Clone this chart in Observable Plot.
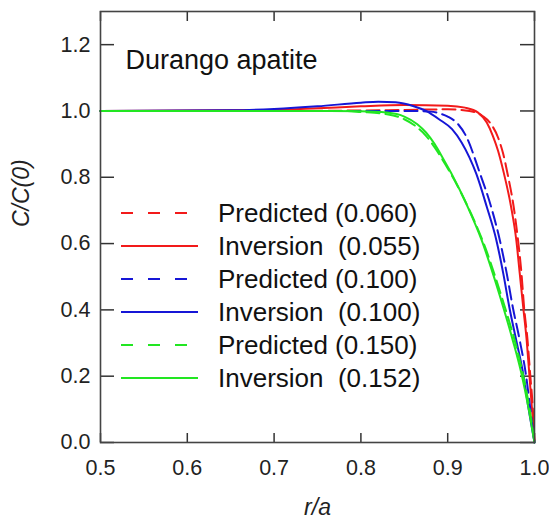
<!DOCTYPE html>
<html>
<head>
<meta charset="utf-8">
<script src="https://cdn.jsdelivr.net/npm/d3@7"></script>
<script src="https://cdn.jsdelivr.net/npm/@observablehq/plot@0.6"></script>
<style>
  html, body { margin: 0; padding: 0; background: #fff; }
  #chart svg { display: block; }
</style>
</head>
<body>
<div id="chart"></div>
<script>
// ---- data ----
const title = "Durango apatite";
const xLabel = "r/a";
const yLabel = "C/C(0)";
const xTicks = [0.5, 0.6, 0.7, 0.8, 0.9, 1.0];
const yTicks = [0.0, 0.2, 0.4, 0.6, 0.8, 1.0, 1.2];

const seriesNames = ["Predicted (0.060)", "Inversion  (0.055)", "Predicted (0.100)", "Inversion  (0.100)", "Predicted (0.150)", "Inversion  (0.152)"];
const seriesColors = ["#f21a1a", "#f21a1a", "#1616d6", "#1616d6", "#22e622", "#22e622"];
const seriesDashed = [true, false, true, false, true, false];

const predicted060R = [0.5, 0.7, 0.85, 0.9, 0.925, 0.94, 0.95, 0.958, 0.964, 0.969, 0.976, 0.981, 0.985, 0.988, 0.992, 0.995, 0.998, 1.0];
const predicted060C = [1.0, 1.0, 1.003, 1.005, 1.0, 0.985, 0.96, 0.92, 0.87, 0.81, 0.711, 0.611, 0.51, 0.408, 0.308, 0.207, 0.105, 0.0];

const inversion055R = [0.5, 0.7, 0.75, 0.8, 0.85, 0.9, 0.92, 0.935, 0.945, 0.952, 0.958, 0.964, 0.973, 0.979, 0.983, 0.987, 0.991, 0.994, 0.997, 1.0];
const inversion055C = [1.0, 1.003, 1.008, 1.014, 1.018, 1.016, 1.01, 0.995, 0.965, 0.925, 0.88, 0.82, 0.711, 0.611, 0.51, 0.408, 0.308, 0.207, 0.105, 0.0];

const predicted100R = [0.5, 0.7, 0.86, 0.88, 0.89, 0.9, 0.912, 0.921, 0.937, 0.95, 0.96, 0.968, 0.975, 0.983, 0.99, 0.995, 1.0];
const predicted100C = [1.0, 1.0, 1.0, 0.998, 0.993, 0.983, 0.96, 0.925, 0.813, 0.711, 0.611, 0.51, 0.408, 0.308, 0.207, 0.105, 0.0];

const inversion100R = [0.5, 0.65, 0.7, 0.75, 0.8, 0.82, 0.84, 0.86, 0.875, 0.89, 0.905, 0.916, 0.925, 0.933, 0.945, 0.956, 0.964, 0.971, 0.979, 0.987, 0.993, 1.0];
const inversion100C = [1.0, 1.002, 1.006, 1.014, 1.025, 1.028, 1.026, 1.015, 1.0, 0.975, 0.945, 0.905, 0.86, 0.81, 0.711, 0.611, 0.51, 0.408, 0.308, 0.207, 0.105, 0.0];

const predicted150R = [0.5, 0.7, 0.78, 0.8, 0.83, 0.85, 0.865, 0.875, 0.885, 0.897, 0.908, 0.927, 0.943, 0.956, 0.968, 0.979, 0.988, 0.995, 1.0];
const predicted150C = [1.0, 1.0, 1.0, 0.997, 0.99, 0.975, 0.95, 0.925, 0.89, 0.84, 0.79, 0.69, 0.59, 0.49, 0.39, 0.29, 0.19, 0.09, 0.0];

const inversion152R = [0.5, 0.7, 0.75, 0.8, 0.83, 0.85, 0.865, 0.875, 0.885, 0.895, 0.904, 0.923, 0.939, 0.952, 0.964, 0.975, 0.985, 0.993, 1.0];
const inversion152C = [1.0, 1.0, 1.0, 0.999, 0.995, 0.983, 0.96, 0.935, 0.9, 0.855, 0.813, 0.711, 0.611, 0.51, 0.408, 0.308, 0.207, 0.105, 0.0];

const seriesR = [predicted060R, inversion055R, predicted100R, inversion100R, predicted150R, inversion152R];
const seriesC = [predicted060C, inversion055C, predicted100C, inversion100C, predicted150C, inversion152C];

// ---- build table ----
const rows = [];
seriesNames.forEach((name, i) => {
  seriesR[i].forEach((r, j) => rows.push({series: name, idx: i, r, c: seriesC[i][j]}));
});

// ---- layout ----
const width = 549, height = 527;
const marginLeft = 100, marginRight = 15, marginTop = 11, marginBottom = 85;
const plotW = width - marginLeft - marginRight;
const plotH = height - marginTop - marginBottom;
const font = "'Liberation Sans', Arial, Helvetica, sans-serif";
const dash = "13,6";
const legendDash = "12,15";

// legend drawn relative to the frame
function legendMark(index, scales, values, dims) {
  const g = d3.create("svg:g").attr("font-family", font).attr("font-size", 26).attr("text-anchor", "start");
  const x0 = dims.marginLeft + 21, x1 = dims.marginLeft + 98, xt = dims.marginLeft + 118;
  const yTop = dims.marginTop + 202, step = 33;
  seriesNames.forEach((name, i) => {
    const y = yTop + i * step;
    g.append("line").attr("x1", x0).attr("x2", x1).attr("y1", y).attr("y2", y)
      .attr("stroke", seriesColors[i]).attr("stroke-width", 2)
      .attr("stroke-dasharray", seriesDashed[i] ? legendDash : null);
    g.append("text").attr("x", xt).attr("y", y).attr("dy", "0.36em")
      .attr("text-anchor", "start")
      .attr("fill", "#111").style("white-space", "pre").attr("xml:space", "preserve").text(name);
  });
  return g.node();
}

const lineMarks = seriesNames.map((name, i) =>
  Plot.line(rows.filter(d => d.idx === i), {
    x: "r", y: "c", stroke: seriesColors[i], strokeWidth: 2,
    strokeDasharray: seriesDashed[i] ? dash : null, curve: "monotone-x"
  })
);

const chart = Plot.plot({
  width, height, marginLeft, marginRight, marginTop, marginBottom,
  style: {fontFamily: font, background: "#fff"},
  x: {domain: [0.5, 1.0], axis: null},
  y: {domain: [0, 1.3], axis: null},
  marks: [
    // tick labels
    Plot.axisX(xTicks, {tickSize: 0, tickPadding: 17, fontSize: 21.5, tickFormat: d3.format(".1f"), label: null, fill: "#222"}),
    Plot.axisY(yTicks, {tickSize: 0, tickPadding: 10, fontSize: 21.5, tickFormat: d3.format(".1f"), label: null, fill: "#222"}),
    // inward ticks
    Plot.ruleX(xTicks, {x: d => d, insetTop: plotH - 9, stroke: "#333", strokeWidth: 1.5}),
    Plot.ruleX(xTicks, {x: d => d, insetBottom: plotH - 10, stroke: "#333", strokeWidth: 1.5}),
    Plot.ruleY(yTicks, {y: d => d, insetRight: plotW - 14, stroke: "#333", strokeWidth: 1.5}),
    Plot.ruleY(yTicks, {y: d => d, insetLeft: plotW - 14, stroke: "#333", strokeWidth: 1.5}),
    // curves
    ...lineMarks,
    Plot.frame({stroke: "#444", strokeWidth: 1.6}),
    // title
    Plot.text([title], {frameAnchor: "top-left", dx: 25, dy: 38, textAnchor: "start", fontSize: 27, fill: "#111"}),
    // axis labels
    Plot.text([xLabel], {frameAnchor: "bottom", dy: 72, fontSize: 23, fontStyle: "italic", fill: "#222"}),
    Plot.text([yLabel], {frameAnchor: "left", dx: -79, rotate: -90, fontSize: 23, fontStyle: "italic", fill: "#222"}),
    legendMark
  ]
});

document.getElementById("chart").appendChild(chart);
</script>
</body>
</html>
